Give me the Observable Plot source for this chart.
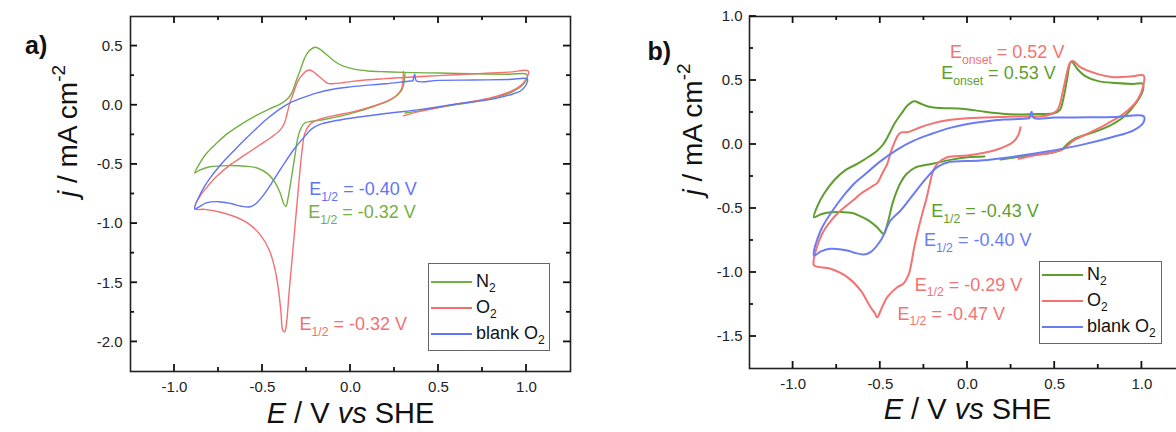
<!DOCTYPE html>
<html>
<head>
<meta charset="utf-8">
<script src="https://cdn.jsdelivr.net/npm/d3@7"></script>
<script src="https://cdn.jsdelivr.net/npm/@observablehq/plot@0.6"></script>
<style>
  html, body { margin: 0; padding: 0; background: #fff; }
  #wrap { position: relative; width: 1176px; height: 432px; overflow: hidden; background: #fff;
          font-family: Arial, "Liberation Sans", sans-serif; }
  #wrap svg { position: absolute; top: 0; }
  .legend { position: absolute; border: 1.3px solid #666; background: #fff; box-sizing: border-box; }
  .legend .sw { position: absolute; height: 0; }
  .legend .lb { position: absolute; font-size: 18px; color: #111; line-height: 18px; white-space: nowrap; }
  .legend sub { font-size: 12px; vertical-align: -5px; line-height: 0; }
</style>
</head>
<body>
<div id="wrap"></div>
<script>
// ---------- data ----------
const seriesNames = ["N2", "O2", "blank O2"];
const xMajor = [-1.0, -0.5, 0.0, 0.5, 1.0];
const xMinor = [-0.75, -0.25, 0.25, 0.75];
const aYMajor = [-2.0, -1.5, -1.0, -0.5, 0.0, 0.5];
const aYMinor = [-1.75, -1.25, -0.75, -0.25, 0.25];
const bYMajor = [-1.5, -1.0, -0.5, 0.0, 0.5, 1.0];
const bYMinor = [-1.25, -0.75, -0.25, 0.25, 0.75];

// panel a) [E (V vs SHE), j (mA cm-2)]
const a_N2 = [[0.31,0.27],[0.305,0.2],[0.295,0.14],[0.27,0.09],[0.22,0.04],[0.15,0.0],[0.05,-0.05],[-0.05,-0.09],[-0.15,-0.12],[-0.22,-0.135],[-0.26,-0.15],[-0.28,-0.19],[-0.3,-0.28],[-0.315,-0.42],[-0.33,-0.56],[-0.345,-0.7],[-0.358,-0.81],[-0.367,-0.855],[-0.38,-0.83],[-0.4,-0.74],[-0.43,-0.65],[-0.47,-0.58],[-0.53,-0.53],[-0.6,-0.515],[-0.7,-0.51],[-0.8,-0.52],[-0.86,-0.55],[-0.885,-0.573],[-0.86,-0.5],[-0.82,-0.41],[-0.76,-0.32],[-0.7,-0.24],[-0.62,-0.16],[-0.54,-0.09],[-0.46,-0.03],[-0.4,0.01],[-0.36,0.05],[-0.335,0.1],[-0.31,0.2],[-0.285,0.3],[-0.26,0.4],[-0.235,0.46],[-0.2,0.49],[-0.17,0.47],[-0.13,0.42],[-0.09,0.37],[-0.04,0.33],[0.02,0.305],[0.1,0.29],[0.2,0.283],[0.3,0.278],[0.5,0.272],[0.7,0.266],[0.9,0.262],[1.0,0.262],[1.003,0.23],[0.97,0.16],[0.9,0.1],[0.8,0.058],[0.7,0.03],[0.6,0.005],[0.5,-0.02],[0.4,-0.045],[0.31,-0.065]];
const a_O2 = [[0.30,0.285],[0.298,0.2],[0.29,0.14],[0.26,0.08],[0.2,0.03],[0.1,-0.02],[0.0,-0.06],[-0.1,-0.09],[-0.18,-0.12],[-0.23,-0.16],[-0.26,-0.24],[-0.275,-0.38],[-0.29,-0.6],[-0.305,-0.85],[-0.32,-1.1],[-0.335,-1.35],[-0.35,-1.6],[-0.362,-1.82],[-0.373,-1.915],[-0.385,-1.9],[-0.395,-1.75],[-0.41,-1.55],[-0.43,-1.38],[-0.46,-1.23],[-0.51,-1.1],[-0.58,-1.0],[-0.66,-0.94],[-0.75,-0.9],[-0.83,-0.88],[-0.885,-0.875],[-0.86,-0.78],[-0.82,-0.7],[-0.76,-0.6],[-0.68,-0.5],[-0.6,-0.42],[-0.52,-0.34],[-0.45,-0.27],[-0.4,-0.21],[-0.375,-0.15],[-0.36,-0.07],[-0.345,0.02],[-0.325,0.1],[-0.3,0.2],[-0.27,0.265],[-0.235,0.298],[-0.2,0.27],[-0.16,0.22],[-0.13,0.185],[-0.08,0.185],[0.0,0.2],[0.1,0.215],[0.2,0.225],[0.3,0.235],[0.5,0.25],[0.7,0.265],[0.9,0.28],[1.01,0.29],[1.005,0.24],[0.97,0.17],[0.9,0.11],[0.8,0.065],[0.7,0.035],[0.6,0.01],[0.5,-0.02],[0.4,-0.05],[0.3,-0.09]];
const a_blank = [[0.355,0.207],[0.365,0.262],[0.375,0.205],[0.5,0.21],[0.7,0.213],[0.9,0.217],[1.005,0.222],[1.0,0.18],[0.97,0.125],[0.9,0.085],[0.8,0.05],[0.6,0.01],[0.4,-0.035],[0.2,-0.07],[0.0,-0.11],[-0.1,-0.135],[-0.17,-0.16],[-0.22,-0.2],[-0.27,-0.28],[-0.32,-0.37],[-0.38,-0.5],[-0.44,-0.64],[-0.5,-0.77],[-0.54,-0.835],[-0.57,-0.858],[-0.62,-0.853],[-0.68,-0.83],[-0.75,-0.815],[-0.82,-0.825],[-0.885,-0.875],[-0.85,-0.74],[-0.8,-0.62],[-0.73,-0.49],[-0.66,-0.38],[-0.6,-0.29],[-0.53,-0.19],[-0.47,-0.11],[-0.4,-0.03],[-0.33,0.03],[-0.25,0.075],[-0.2,0.1],[-0.1,0.135],[0.0,0.155],[0.1,0.17],[0.2,0.182],[0.3,0.198],[0.355,0.207]];

// panel b)
const b_N2 = [[0.097,-0.094],[0.0,-0.1],[-0.1,-0.12],[-0.2,-0.15],[-0.3,-0.18],[-0.35,-0.23],[-0.385,-0.3],[-0.41,-0.38],[-0.43,-0.46],[-0.455,-0.6],[-0.47,-0.67],[-0.48,-0.7],[-0.5,-0.675],[-0.52,-0.645],[-0.56,-0.6],[-0.6,-0.57],[-0.66,-0.535],[-0.72,-0.528],[-0.785,-0.53],[-0.84,-0.545],[-0.88,-0.568],[-0.86,-0.48],[-0.823,-0.385],[-0.766,-0.281],[-0.7,-0.2],[-0.63,-0.15],[-0.56,-0.09],[-0.52,-0.05],[-0.484,0.0],[-0.45,0.08],[-0.42,0.16],[-0.38,0.24],[-0.34,0.31],[-0.305,0.338],[-0.27,0.32],[-0.22,0.295],[-0.15,0.285],[-0.05,0.282],[0.03,0.27],[0.1,0.255],[0.2,0.24],[0.3,0.235],[0.4,0.238],[0.5,0.245],[0.53,0.27],[0.55,0.36],[0.57,0.5],[0.59,0.64],[0.6,0.645],[0.63,0.59],[0.68,0.53],[0.75,0.495],[0.85,0.48],[0.95,0.473],[1.005,0.475],[1.005,0.42],[0.97,0.33],[0.9,0.22],[0.82,0.15],[0.7,0.085],[0.62,0.05],[0.57,0.0],[0.54,-0.04],[0.48,-0.065],[0.4,-0.08],[0.3,-0.095],[0.189,-0.118]];
const b_O2 = [[0.304,0.135],[0.294,0.083],[0.27,0.03],[0.246,0.005],[0.151,-0.047],[0.0,-0.086],[-0.116,-0.1],[-0.174,-0.151],[-0.2,-0.22],[-0.215,-0.3],[-0.235,-0.42],[-0.255,-0.52],[-0.28,-0.65],[-0.305,-0.8],[-0.325,-0.95],[-0.336,-1.01],[-0.37,-1.09],[-0.403,-1.115],[-0.46,-1.193],[-0.498,-1.297],[-0.517,-1.35],[-0.535,-1.31],[-0.556,-1.271],[-0.613,-1.14],[-0.689,-1.036],[-0.785,-0.971],[-0.88,-0.945],[-0.88,-0.89],[-0.85,-0.75],[-0.823,-0.672],[-0.78,-0.59],[-0.727,-0.516],[-0.65,-0.43],[-0.613,-0.385],[-0.55,-0.33],[-0.517,-0.3],[-0.49,-0.23],[-0.46,-0.151],[-0.44,-0.06],[-0.422,0.005],[-0.4,0.07],[-0.38,0.095],[-0.345,0.096],[-0.269,0.135],[-0.2,0.165],[-0.116,0.19],[0.0,0.205],[0.1,0.21],[0.265,0.219],[0.456,0.227],[0.514,0.266],[0.552,0.448],[0.59,0.643],[0.609,0.651],[0.647,0.604],[0.743,0.552],[0.838,0.526],[0.934,0.531],[1.01,0.539],[1.01,0.474],[0.972,0.344],[0.895,0.24],[0.8,0.162],[0.686,0.083],[0.609,0.031],[0.552,-0.034],[0.494,-0.06],[0.38,-0.086],[0.294,-0.112]];
const b_blank = [[0.355,0.205],[0.368,0.255],[0.38,0.208],[0.5,0.21],[0.7,0.212],[0.85,0.215],[1.01,0.22],[1.01,0.175],[0.952,0.11],[0.838,0.06],[0.647,-0.005],[0.456,-0.055],[0.265,-0.095],[0.074,-0.125],[-0.116,-0.14],[-0.174,-0.177],[-0.231,-0.255],[-0.308,-0.385],[-0.384,-0.516],[-0.441,-0.594],[-0.498,-0.75],[-0.556,-0.841],[-0.594,-0.859],[-0.65,-0.845],[-0.689,-0.828],[-0.785,-0.815],[-0.84,-0.835],[-0.88,-0.867],[-0.842,-0.672],[-0.746,-0.463],[-0.651,-0.307],[-0.594,-0.24],[-0.498,-0.13],[-0.403,-0.04],[-0.308,0.03],[-0.212,0.08],[-0.1,0.13],[0.0,0.16],[0.1,0.18],[0.211,0.195],[0.3,0.2],[0.355,0.205]];

// annotations: label, anchor E, anchor j, series
const aNotes = [
  ["E_{1/2} = -0.40 V", -0.235, -0.712, "blank O2"],
  ["E_{1/2} = -0.32 V", -0.24, -0.904, "N2"],
  ["E_{1/2} = -0.32 V", -0.29, -1.853, "O2"]
];
const bNotes = [
  ["E_{onset} = 0.52 V", -0.101, 0.717, "O2"],
  ["E_{onset} = 0.53 V", -0.151, 0.556, "N2"],
  ["E_{1/2} = -0.43 V", -0.208, -0.523, "N2"],
  ["E_{1/2} = -0.40 V", -0.25, -0.75, "blank O2"],
  ["E_{1/2} = -0.29 V", -0.303, -1.096, "O2"],
  ["E_{1/2} = -0.47 V", -0.402, -1.323, "O2"]
];
const xTitle = "*E* / V *vs* SHE";
const yTitle = "*j* / mA cm^{-2}";

// ---------- helpers ----------
const fmt = d => d.toFixed(1);
const xDomain = [-1.25, 1.25];
function rows(series) {
  const out = [];
  series.forEach(([name, pts]) => pts.forEach(([E, j], i) => out.push({series: name, E, j, i})));
  return out;
}
function notes(arr) { return arr.map(([label, E, j, series]) => ({label, E, j, series})); }

function richify(root) {
  root.querySelectorAll("text").forEach(t => {
    const s = t.textContent;
    if (!/_\{|\^\{|\*/.test(s)) return;
    const fs = parseFloat(getComputedStyle(t).fontSize);
    const parts = s.split(/(_\{[^}]*\}|\^\{[^}]*\}|\*[^*]+\*)/).filter(p => p !== "");
    while (t.firstChild) t.removeChild(t.firstChild);
    let shift = 0;
    for (const p of parts) {
      const ts = document.createElementNS("http://www.w3.org/2000/svg", "tspan");
      let target = 0, txt = p;
      if (p.startsWith("_{")) { target = 0.32 * fs; txt = p.slice(2, -1); ts.setAttribute("font-size", 0.68 * fs); }
      else if (p.startsWith("^{")) { target = -0.42 * fs; txt = p.slice(2, -1); ts.setAttribute("font-size", 0.68 * fs); }
      else if (p.startsWith("*")) { txt = p.slice(1, -1); ts.setAttribute("font-style", "italic"); }
      if (target !== shift) ts.setAttribute("dy", target - shift);
      shift = target;
      ts.textContent = txt;
      t.appendChild(ts);
    }
  });
}

// inward ticks on all four frame sides, positioned with the plot's own scales
function addTicks(svg, o) {
  const sx = svg.scale("x"), sy = svg.scale("y");
  const [X0, X1] = sx.range, [Y0, Y1] = sy.range; // Y0 bottom, Y1 top
  const g = d3.select(svg).append("g").attr("aria-label", "frame ticks")
    .attr("stroke", "#111").attr("stroke-width", 1.8).attr("fill", "none");
  const add = (vals, len) => {
    for (const v of vals) {
      const x = sx.apply(v);
      g.append("line").attr("x1", x).attr("x2", x).attr("y1", Y0).attr("y2", Y0 - len);
      g.append("line").attr("x1", x).attr("x2", x).attr("y1", Y1).attr("y2", Y1 + len);
    }
  };
  const addY = (vals, len) => {
    for (const v of vals) {
      const y = sy.apply(v);
      g.append("line").attr("y1", y).attr("y2", y).attr("x1", X0).attr("x2", X0 + len);
      g.append("line").attr("y1", y).attr("y2", y).attr("x1", X1).attr("x2", X1 - len);
    }
  };
  add(xMajor, 7); add(xMinor, 4);
  addY(o.yMajor, 7); addY(o.yMinor, 4);
}

function panel(o) {
  const W = o.width, H = 432;
  const [mt, mr, mb, ml] = o.m;
  const svg = Plot.plot({
    width: W, height: H,
    marginTop: mt, marginRight: mr, marginBottom: mb, marginLeft: ml,
    x: {domain: xDomain, label: null},
    y: {domain: o.yDomain, label: null},
    color: {domain: seriesNames, range: o.colors},
    style: {fontFamily: 'Arial, "Liberation Sans", sans-serif', fontSize: "15px", color: "#222", background: "transparent"},
    marks: [
      Plot.line(o.data, {x: "E", y: "j", z: "series", stroke: "series", strokeWidth: o.sw, curve: "catmull-rom"}),
      Plot.frame({stroke: "#222", strokeWidth: 1.6}),
      Plot.axisX({anchor: "bottom", ticks: xMajor, tickSize: 0, tickPadding: 10, tickFormat: fmt, label: null, fontSize: 15}),
      Plot.axisY({anchor: "left", ticks: o.yMajor, tickSize: 0, tickPadding: o.yPad, tickFormat: fmt, label: null, fontSize: 15}),
      Plot.text(o.notes, {x: "E", y: "j", text: "label", fill: "series", textAnchor: "start", fontSize: 18}),
      Plot.text([xTitle], {text: d => d, frameAnchor: "bottom", dy: o.xTitleDy, fontSize: 29, fill: "#111"}),
      Plot.text([yTitle], {text: d => d, frameAnchor: "left", dx: o.yTitleDx, dy: 3, rotate: -90, fontSize: 28, fill: "#111"}),
      Plot.text([o.tag], {text: d => d, frameAnchor: "top-left", dx: o.tagD[0], dy: o.tagD[1], fontSize: 25, fontWeight: "bold", fill: "#111"})
    ]
  });
  addTicks(svg, o);
  return svg;
}

function legend(wrap, box, colors, lineW, entryYs) {
  const div = document.createElement("div");
  div.className = "legend";
  Object.assign(div.style, {left: box[0] + "px", top: box[1] + "px", width: box[2] + "px", height: box[3] + "px"});
  seriesNames.forEach((name, k) => {
    const sw = document.createElement("div");
    sw.className = "sw";
    Object.assign(sw.style, {left: "2px", width: "41px", top: (entryYs[k] - lineW / 2) + "px", borderTop: lineW + "px solid " + colors[k]});
    const lb = document.createElement("div");
    lb.className = "lb";
    lb.style.left = "47px";
    lb.style.top = (entryYs[k] - 10) + "px";
    lb.innerHTML = name.replace(/(\d)$/, "<sub>$1</sub>");
    div.appendChild(sw); div.appendChild(lb);
  });
  wrap.appendChild(div);
}

// ---------- render ----------
const wrap = document.getElementById("wrap");
const colorsA = ["#72b043", "#f47070", "#5f74f7"];
const colorsB = ["#5e9e2e", "#f37272", "#6a7cf2"];

const svgA = panel({
  width: 600, m: [16, 30, 61, 130], yDomain: [-2.25, 0.75], yMajor: aYMajor, yMinor: aYMinor, yPad: 8,
  data: rows([["N2", a_N2], ["O2", a_O2], ["blank O2", a_blank]]), notes: notes(aNotes),
  colors: colorsA, sw: 1.4, xTitleDy: 51, yTitleDx: -62.5, tag: "a)", tagD: [-105.5, 20]
});
svgA.style.left = "0px";
svgA.style.overflow = "visible";
wrap.appendChild(svgA);

const svgB = panel({
  width: 600, m: [16, 15, 64, 149], yDomain: [-1.75, 1.0], yMajor: bYMajor, yMinor: bYMinor, yPad: 7,
  data: rows([["N2", b_N2], ["O2", b_O2], ["blank O2", b_blank]]), notes: notes(bNotes),
  colors: colorsB, sw: 2, xTitleDy: 50.3, yTitleDx: -56.3, tag: "b)", tagD: [-102, 25.7]
});
svgB.style.left = "600px";
svgB.style.overflow = "visible";
wrap.appendChild(svgB);

richify(wrap);

legend(wrap, [428, 263, 122, 88], colorsA, 2, [17.5, 43.5, 69.5]);
legend(wrap, [1039, 261, 123, 83], colorsB, 2.4, [13, 39, 65]);
</script>
</body>
</html>
